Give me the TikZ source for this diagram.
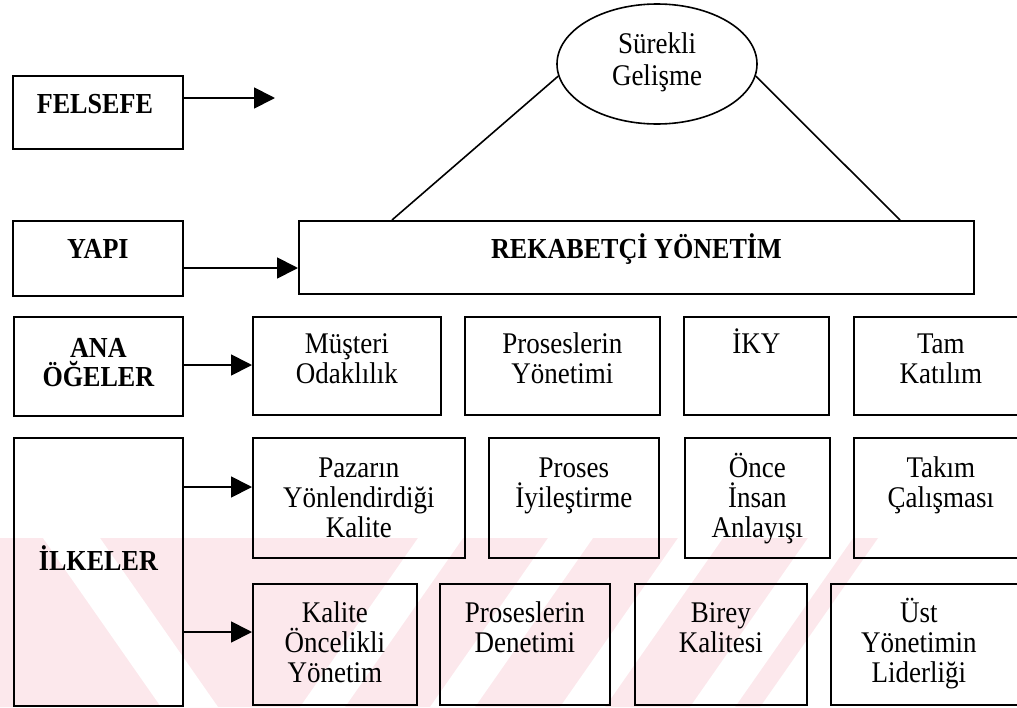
\documentclass[tikz,border=0pt]{standalone}
\usepackage{fontspec}
\setmainfont{Liberation Serif}[FakeStretch=0.9]
\usetikzlibrary{arrows.meta,shapes.geometric,calc}
\definecolor{wm}{RGB}{252,232,236}
\newcommand{\mlines}[1]{\parbox[t]{230pt}{\centering #1}}
\begin{document}
\begin{tikzpicture}[x=1pt,y=-1pt,
  box/.style={draw, line width=1.8pt, inner sep=0pt, anchor=north west},
  lbl/.style={anchor=base, inner sep=0pt, font=\fontsize{30}{30}\selectfont},
  blbl/.style={anchor=base, inner sep=0pt, font=\fontsize{29}{29}\selectfont\bfseries},
  arr/.style={line width=1.8pt, -{Triangle[length=21pt,width=21pt]}},
  conn/.style={line width=1.6pt}]
\useasboundingbox (0,0) rectangle (1017,707);
\clip (0,0) rectangle (1017,707);
\fill[white] (0,0) rectangle (1017,707);
% watermark
\fill[wm] (0,538) -- (878,538) -- (760,707) -- (0,707) -- cycle;
\fill[white] (43,538) -- (100,538) -- (218,707) -- (161,707) -- cycle;
\foreach \x in {300,430,560,690}
  \fill[white] (\x,707) -- (\x+45,707) -- (\x+163,538) -- (\x+118,538) -- cycle;
% left column
\node[box, minimum width=170pt, minimum height=73pt] (felsefe) at (12,75) {};
\node[box, minimum width=170pt, minimum height=75pt] (yapi) at (12,220) {};
\node[box, minimum width=169pt, minimum height=99pt] (ana) at (13,316) {};
\node[box, minimum width=169pt, minimum height=268pt] (ilkeler) at (13,437) {};
\node[blbl] (tfelsefe) at ($(felsefe.north)+(-3,38)$) {FELSEFE};
\node[blbl] (tyapi) at ($(yapi.north)+(0,38)$) {YAPI};
\node[blbl] (tana) at ($(ana.north)+(0,41)$) {\mlines{ANA\\ÖĞELER}};
\node[blbl] (tilkeler) at ($(ilkeler.north)+(0,133)$) {İLKELER};
% top
\node[draw, ellipse, line width=1.6pt, minimum width=200pt, minimum height=120pt, inner sep=0pt] (ell) at (657,64) {};
\node[lbl, font=\fontsize{30}{32}\selectfont] (tell) at ($(ell.center)+(0,-11)$) {\mlines{Sürekli\\Gelişme}};
\node[box, minimum width=675pt, minimum height=73pt] (rek) at (298,220) {};
\node[blbl] (trek) at ($(rek.north)+(0,38)$) {REKABETÇİ YÖNETİM};
% row 1
\node[box, minimum width=188pt, minimum height=98pt] (musteri) at (252,316) {};
\node[box, minimum width=195pt, minimum height=98pt] (proy) at (464,316) {};
\node[box, minimum width=145pt, minimum height=98pt] (iky) at (683,316) {};
\node[box, minimum width=180pt, minimum height=98pt] (tam) at (853,316) {};
\node[lbl] (tmusteri) at ($(musteri.north)+(0,37)$) {\mlines{Müşteri\\Odaklılık}};
\node[lbl] (tproy) at ($(proy.north)+(0,37)$) {\mlines{Proseslerin\\Yönetimi}};
\node[lbl] (tiky) at ($(iky.north)+(0,37)$) {İKY};
\node[lbl] (ttam) at ($(tam.north)+(-3,37)$) {\mlines{Tam\\Katılım}};
% row 2
\node[box, minimum width=212pt, minimum height=120pt] (pazarin) at (252,437) {};
\node[box, minimum width=170pt, minimum height=120pt] (proses) at (488,437) {};
\node[box, minimum width=145pt, minimum height=120pt] (once) at (684,437) {};
\node[box, minimum width=180pt, minimum height=120pt] (takim) at (853,437) {};
\node[lbl] (tpazarin) at ($(pazarin.north)+(0,40)$) {\mlines{Pazarın\\Yönlendirdiği\\Kalite}};
\node[lbl] (tproses) at ($(proses.north)+(0,40)$) {\mlines{Proses\\İyileştirme}};
\node[lbl] (tonce) at ($(once.north)+(0,40)$) {\mlines{Önce\\İnsan\\Anlayışı}};
\node[lbl] (ttakim) at ($(takim.north)+(-3,40)$) {\mlines{Takım\\Çalışması}};
% row 3
\node[box, minimum width=164pt, minimum height=121pt] (kalite) at (252,583) {};
\node[box, minimum width=170pt, minimum height=121pt] (prden) at (439,583) {};
\node[box, minimum width=172pt, minimum height=121pt] (birey) at (634,583) {};
\node[box, minimum width=200pt, minimum height=121pt] (ust) at (830,583) {};
\node[lbl] (tkalite) at ($(kalite.north)+(0,39)$) {\mlines{Kalite\\Öncelikli\\Yönetim}};
\node[lbl] (tprden) at ($(prden.north)+(0,39)$) {\mlines{Proseslerin\\Denetimi}};
\node[lbl] (tbirey) at ($(birey.north)+(0,39)$) {\mlines{Birey\\Kalitesi}};
\node[lbl] (tust) at ($(ust.north)+(-12,39)$) {\mlines{Üst\\Yönetimin\\Liderliği}};
% connectors
\coordinate (fa) at (275,98);
\coordinate (ya) at (0,268);
\coordinate (aa) at (0,365);
\coordinate (ia) at (0,487);
\coordinate (ib) at (0,632);
\draw[arr] (felsefe.east |- fa) -- (fa);
\draw[arr] (yapi.east |- ya) -- (rek.west |- ya);
\draw[arr] (ana.east |- aa) -- (musteri.west |- aa);
\draw[arr] (ilkeler.east |- ia) -- (pazarin.west |- ia);
\draw[arr] (ilkeler.east |- ib) -- (kalite.west |- ib);
\draw[conn] ($(rek.north west)+(94,0)$) -- (ell.187);
\draw[conn] (ell.353) -- ($(rek.north west)+(602,0)$);
\end{tikzpicture}
\end{document}
